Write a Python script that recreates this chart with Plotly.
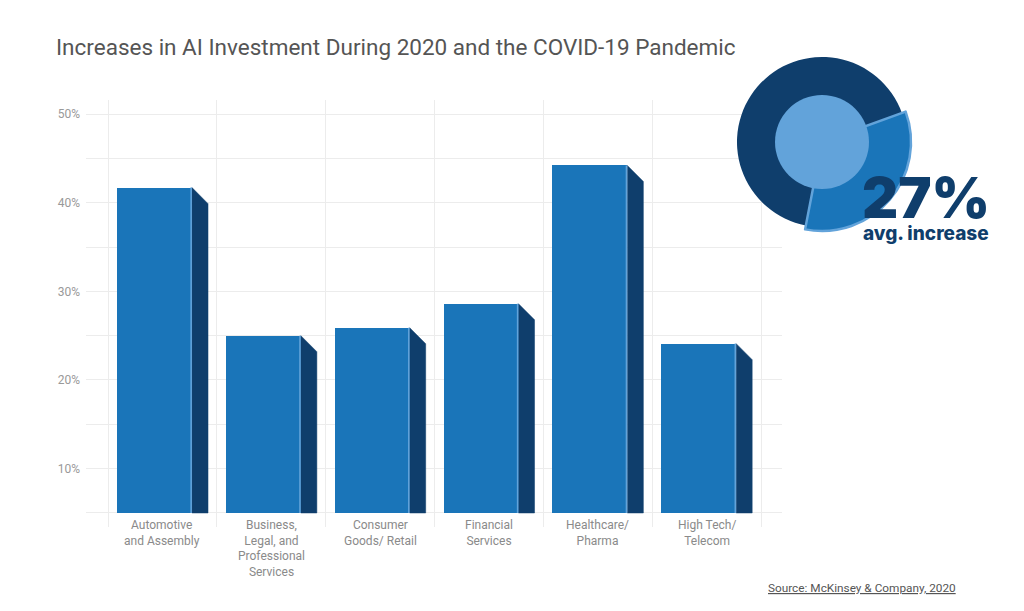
import plotly.graph_objects as go

# ---- data ----
categories = ["Automotive<br>and Assembly", "Business,<br>Legal, and<br>Professional<br>Services",
              "Consumer<br>Goods/ Retail", "Financial<br>Services", "Healthcare/<br>Pharma",
              "High Tech/<br>Telecom"]
values = [41.7, 25.0, 25.9, 28.6, 44.2, 24.1]
y_tickvals = [5, 10, 15, 20, 25, 30, 35, 40, 45, 50]
y_ticktext = ["", "10%", "", "20%", "", "30%", "", "40%", "", "50%"]
donut_values = [33.6, 66.4]
avg_label = "27%"
avg_caption = "avg. increase"

W, H = 1024, 611
FRONT = "#1a75b9"
SIDE = "#0f3e6c"
LIGHT = "#62a3da"
NAVY = "#0f3e6c"

base = 5
pos = list(range(len(categories)))
f_left, f_right, s_right = -0.417, 0.272, 0.419
depth = 1.81  # 45deg bevel in value units

fig = go.Figure()

# front faces
fig.add_trace(go.Bar(x=pos, y=[v - base for v in values], base=base,
                     offset=f_left, width=f_right - f_left,
                     marker=dict(color=FRONT, line=dict(width=0)),
                     hoverinfo="skip", showlegend=False))

# side faces
sx, sy = [], []
for p, v in zip(pos, values):
    sx += [p + f_right, p + s_right, p + s_right, p + f_right, p + f_right, None]
    sy += [v, v - depth, base, base, v, None]
fig.add_trace(go.Scatter(x=sx, y=sy, mode="lines", fill="toself", fillcolor=SIDE,
                         line=dict(color=SIDE, width=0.5), hoverinfo="skip", showlegend=False))

# highlight edge
hx, hy = [], []
for p, v in zip(pos, values):
    hx += [p + f_right - 0.008, p + f_right - 0.008, None]
    hy += [base, v, None]
fig.add_trace(go.Scatter(x=hx, y=hy, mode="lines", line=dict(color=LIGHT, width=1.6),
                         hoverinfo="skip", showlegend=False))

# donut
cx, cy = 822, 142
def dom(r):
    return dict(x=[(cx - r) / W, (cx + r) / W], y=[1 - (cy + r) / H, 1 - (cy - r) / H])

fig.add_trace(go.Pie(values=donut_values, domain=dom(85), sort=False, direction="clockwise",
                     rotation=70, marker=dict(colors=[FRONT, SIDE], line=dict(width=0)),
                     textinfo="none", hoverinfo="skip", showlegend=False))
fig.add_trace(go.Pie(values=donut_values, domain=dom(89), sort=False, direction="clockwise",
                     rotation=70,
                     marker=dict(colors=[FRONT, "rgba(0,0,0,0)"],
                                 line=dict(color=[LIGHT, "rgba(0,0,0,0)"], width=[2.5, 0])),
                     textinfo="none", hoverinfo="skip", showlegend=False))
fig.add_trace(go.Pie(values=[1], domain=dom(47), marker=dict(colors=[LIGHT], line=dict(width=0)),
                     textinfo="none", hoverinfo="skip", showlegend=False))

# category labels
for p, c in zip(pos, categories):
    fig.add_annotation(x=p, y=base, xref="x", yref="y", text=c, showarrow=False,
                       xanchor="center", yanchor="top", yshift=-3,
                       font=dict(family="Roboto", size=12, color="#8a8a8a"))

# title
fig.add_annotation(x=54 / W, y=1 - 47 / H, xref="paper", yref="paper",
                   text="Increases in AI Investment During 2020 and the COVID-19 Pandemic",
                   showarrow=False, xanchor="left", yanchor="middle",
                   font=dict(family="Roboto", size=22.5, color="#555555"))

# big percentage and caption
fig.add_annotation(x=860 / W, y=1 - 198 / H, xref="paper", yref="paper", text=avg_label,
                   showarrow=False, xanchor="left", yanchor="middle",
                   font=dict(family="Inter", size=56, color=NAVY, weight=900))
fig.add_annotation(x=861 / W, y=1 - 233 / H, xref="paper", yref="paper", text=avg_caption,
                   showarrow=False, xanchor="left", yanchor="middle",
                   font=dict(family="Inter", size=19, color=NAVY, weight=800))

# source
fig.add_annotation(x=766 / W, y=1 - 588 / H, xref="paper", yref="paper",
                   text="<u>Source: McKinsey &amp; Company, 2020</u>",
                   showarrow=False, xanchor="left", yanchor="middle",
                   font=dict(family="Roboto", size=11.8, color="#555555"))

x_per = (761 - 108) / 6
y_per = (468 - 114) / 40

fig.update_layout(
    width=W, height=H, margin=dict(l=0, r=0, t=0, b=0),
    paper_bgcolor="white", plot_bgcolor="white",
    xaxis=dict(domain=[86 / W, 782 / W],
               range=[-0.5 - 22 / x_per, 5.5 + 21 / x_per],
               showticklabels=False, showgrid=False, zeroline=False, showline=False,
               tickvals=pos,
               minor=dict(tickvals=[p - 0.5 for p in pos] + [pos[-1] + 0.5], showgrid=True,
                          gridcolor="#ececec", gridwidth=1, ticks="")),
    yaxis=dict(domain=[1 - 527 / H, 1 - 100 / H],
               range=[5 - 14 / y_per, 50 + 14 / y_per],
               tickvals=y_tickvals, ticktext=y_ticktext, showgrid=True,
               gridcolor="#ececec", gridwidth=1, zeroline=False, showline=False,
               ticklabelstandoff=5,
               tickfont=dict(family="Roboto", size=12, color="#999999")),
    bargap=0,
)

fig.write_html("out.html", config={"displayModeBar": False},
               post_script="document.body.style.margin='0px';")
